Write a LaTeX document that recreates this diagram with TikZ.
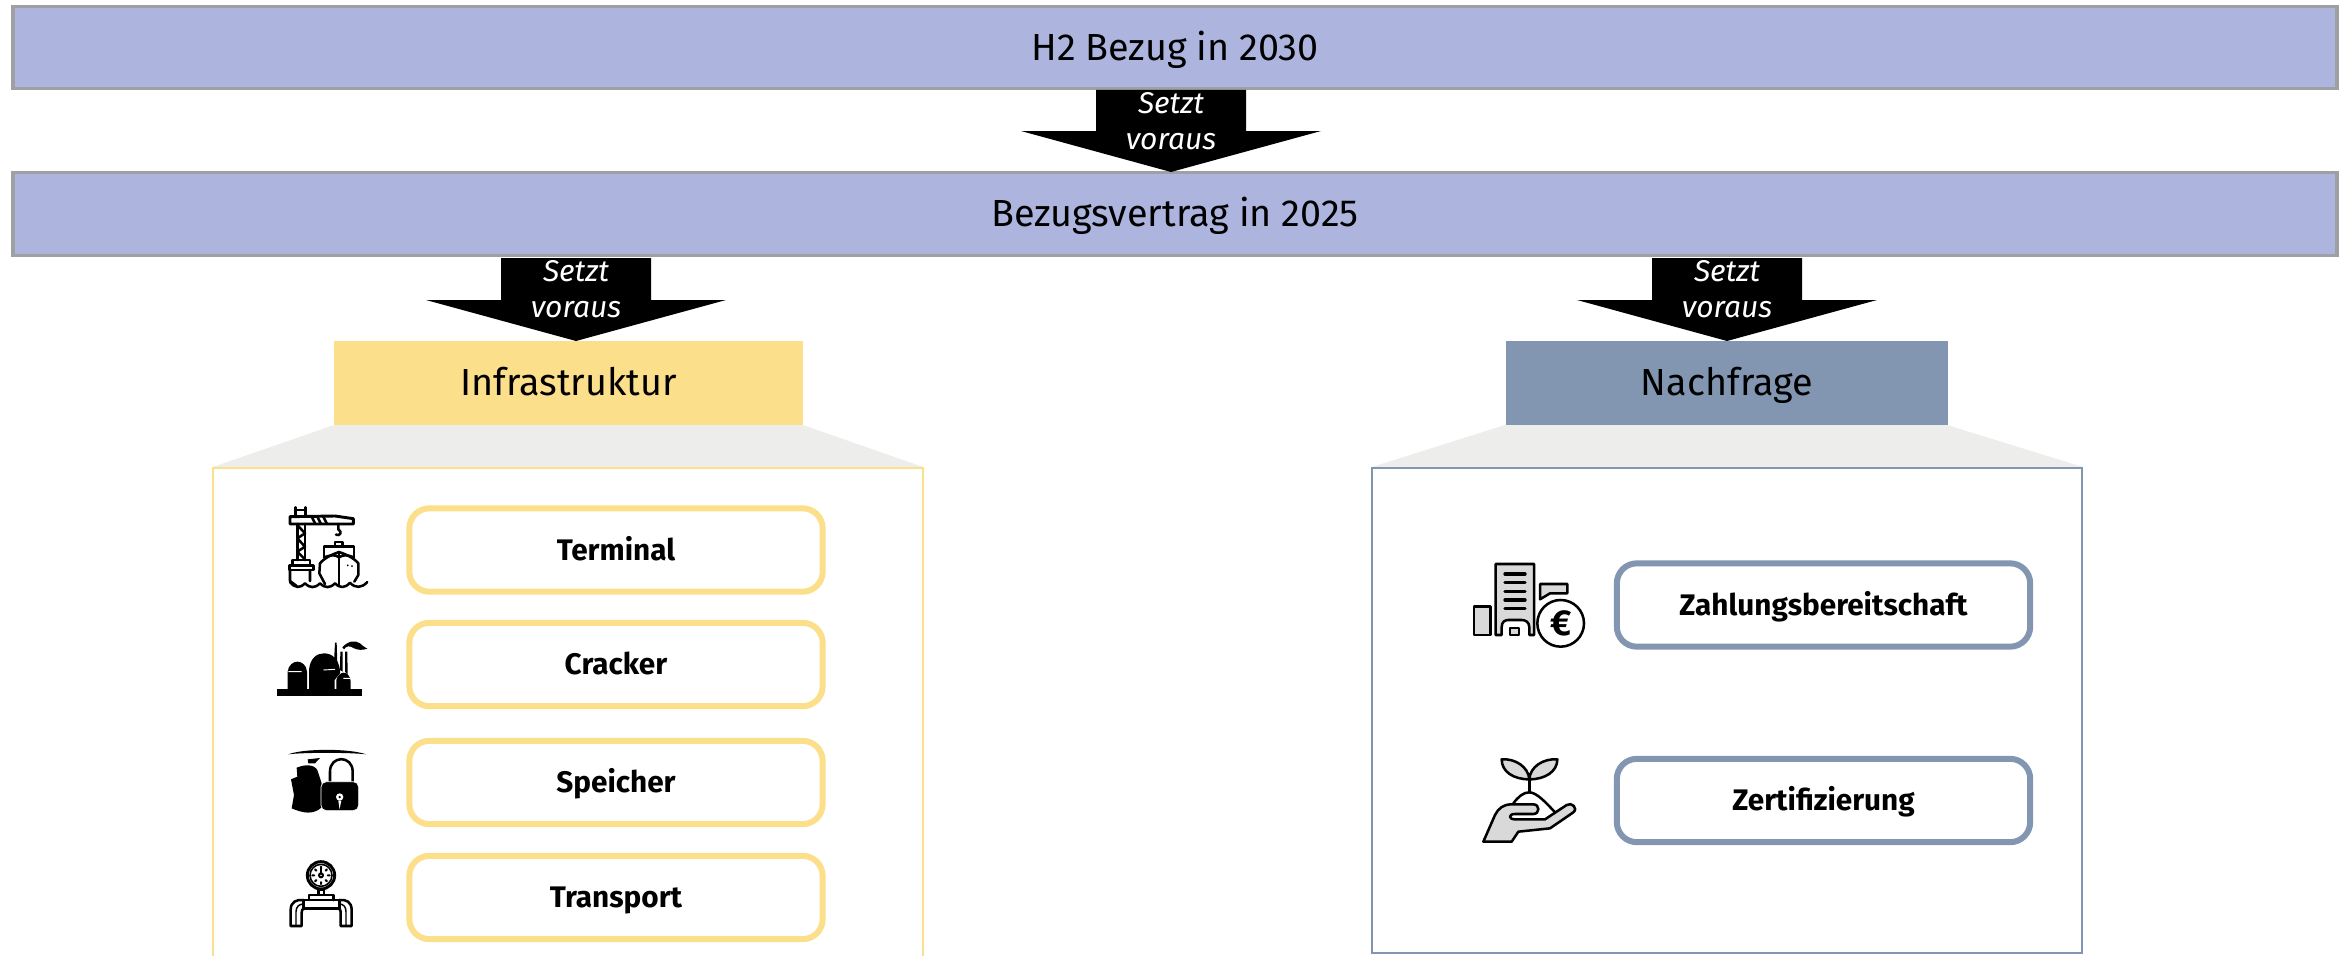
\documentclass[tikz,border=0pt]{standalone}
\usepackage{fontspec}
\setmainfont{Fira Sans}
\definecolor{barfill}{HTML}{ADB5DF}
\definecolor{barline}{HTML}{9FA0A4}
\definecolor{gelb}{HTML}{FCDF8A}
\definecolor{stahl}{HTML}{8396B1}
\definecolor{trapez}{HTML}{EDEDEB}
\definecolor{icongrey}{HTML}{D9D9D9}
\tikzset{
  x=0.75pt,y=-0.75pt,
  bar/.style={draw=barline,line width=2.4pt,fill=barfill,inner sep=0,minimum width=1743pt,minimum height=62pt,text height=24pt,text depth=4.8pt,font=\fontsize{28.3}{34}\selectfont},
  head/.style={inner sep=0,minimum height=63pt,text height=24pt,text depth=4.8pt,font=\fontsize{28.3}{34}\selectfont},
  arrowtext/.style={text=white,align=center,inner sep=0,font=\fontsize{22.5}{27.5}\selectfont\itshape},
  item/.style={draw=#1,line width=4.5pt,rounded corners=15pt,fill=white,inner sep=0,minimum height=62.5pt,text height=20pt,text depth=5pt,font=\fontsize{22.3}{26}\selectfont\bfseries},
  panel/.style={line width=2.2pt},
  ic/.style={line width=1.9pt,draw=black,line join=round,line cap=round},
  icg/.style={ic,fill=icongrey},
  icon/.style={shift={(#1)},scale=1/3}
}
\begin{document}
\begin{tikzpicture}
\useasboundingbox (0,0) rectangle (2349,956);
% trapezes and panels
\fill[trapez] (334,425) -- (803,425) -- (923,467) -- (213,467) -- cycle;
\fill[trapez] (1505,425) -- (1947,425) -- (2083,467) -- (1372,467) -- cycle;
\draw[gelb,panel] (213,956) -- (213,468) -- (923,468) -- (923,956);
\draw[stahl,panel] (1372,468) rectangle (2082,953);
% bars
\node[bar] (b1) at (1175,47.5) {H2 Bezug in 2030};
\node[bar] (b2) at (1175,214) {Bezugsvertrag in 2025};
% heads
\node[head,fill=gelb,minimum width=352pt] (infra) at (568.5,383) {Infrastruktur};
\node[head,fill=stahl,minimum width=331.5pt] (nach) at (1727,383) {Nachfrage};
% arrows
\fill[black] (1096,90) -- (1246,90) -- (1246,131) -- (1321,131) -- (1171,172) -- (1021,131) -- (1096,131) -- cycle;
\fill[black] (501,258) -- (651,258) -- (651,300) -- (726,300) -- (576,341) -- (426,300) -- (501,300) -- cycle;
\fill[black] (1652,258) -- (1802,258) -- (1802,300) -- (1877,300) -- (1727,341) -- (1577,300) -- (1652,300) -- cycle;
\node[arrowtext] (t1) at (1171,121) {Setzt\\voraus};
\node[arrowtext] (t2) at (576,289) {Setzt\\voraus};
\node[arrowtext] (t3) at (1727,289) {Setzt\\voraus};
% items
\node[item=gelb,minimum width=310pt] (i1) at (616,550) {Terminal};
\node[item=gelb,minimum width=310pt] (i2) at (616,664.5) {Cracker};
\node[item=gelb,minimum width=310pt] (i3) at (616,782.5) {Speicher};
\node[item=gelb,minimum width=310pt] (i4) at (616,897.5) {Transport};
\node[item=stahl,minimum width=310pt] (n1) at (1823.5,605) {Zahlungsbereitschaft};
\node[item=stahl,minimum width=310pt] (n2) at (1823.5,800.5) {Zertifizierung};
% crane and ship
\begin{scope}[icon={260,480}]
\draw[ic] (107,104) -- (107,82) (137,104) -- (137,82) (107,90) -- (137,90);
\draw[ic,line width=2.2pt] (90,110) -- (225,108) -- (280,116) -- (280,132) -- (90,132) -- cycle;
\draw[ic] (155,110) -- (165,130) (172,110) -- (182,130) (190,110) -- (200,130);
\draw[ic,line width=2.2pt] (112,132) -- (112,240) (135,132) -- (135,240);
\draw[ic] (112,135) -- (135,160) -- (112,175) -- (135,200) -- (112,215) -- (135,238);
\draw[ic] (97,256) -- (97,240) -- (150,240) -- (150,256);
\draw[ic] (88,256) -- (160,256) -- (160,270) -- (88,270) -- cycle;
\draw[ic] (90,270) -- (90,303) -- (110,318) (150,270) -- (150,303);
\draw[ic] (235,132) -- (235,148) .. controls (248,155) and (240,170) .. (228,164);
\draw[ic] (225,200) -- (225,186) -- (248,186) -- (248,200);
\draw[ic] (192,232) -- (192,200) -- (282,200) -- (282,232);
\draw[ic] (180,250) .. controls (195,232) and (220,222) .. (237,216) .. controls (255,222) and (280,232) .. (295,250) -- (295,285) -- (283,305);
\draw[ic] (180,250) -- (178,280) -- (195,312);
\draw[ic] (237,216) -- (237,316);
\draw[ic] (192,232) .. controls (210,226) and (225,222) .. (237,232) .. controls (250,222) and (265,226) .. (282,232);
\fill (263,256) circle (3) (276,258) circle (3);
\draw[ic] (90,306) .. controls (105,325) and (120,325) .. (135,310) .. controls (150,325) and (165,325) .. (180,310) .. controls (195,325) and (210,325) .. (225,310) .. controls (240,325) and (255,325) .. (270,308) .. controls (285,325) and (305,325) .. (322,306);
% refinery
\fill (50,627) rectangle (305,648);
\fill (83,627) -- (83,575) .. controls (85,555) and (100,545) .. (112,545) .. controls (125,545) and (140,555) .. (141,575) -- (141,627) -- cycle;
\fill (147,627) -- (147,570) .. controls (150,535) and (170,520) .. (192,520) .. controls (215,520) and (235,535) .. (240,570) -- (240,580) -- (224,600) -- (224,627) -- cycle;
\fill (229,627) -- (229,600) .. controls (232,585) and (245,578) .. (250,578) .. controls (260,578) and (272,588) .. (272,605) -- (272,627) -- cycle;
\fill (222,548) -- (225,488) -- (230,488) -- (232,552) -- cycle;
\fill (240,570) -- (241,515) -- (248,515) -- (248,575) -- cycle;
\fill (255,575) -- (255,515) -- (262,515) -- (263,585) -- cycle;
\fill (247,502) .. controls (265,482) and (285,480) .. (300,490) .. controls (305,496) and (312,500) .. (322,506) .. controls (310,510) and (295,512) .. (280,504) .. controls (270,496) and (258,498) .. (252,508) -- cycle;
\draw[white,line width=.7pt] (85,575) -- (125,575) (190,570) -- (225,568) (250,595) -- (270,595);
\end{scope}
% storage
\begin{scope}[icon={260,720}]
\fill (85,103) .. controls (130,85) and (270,85) .. (318,103) .. controls (270,97) and (130,97) .. cycle;
\fill (143,118) -- (180,114) -- (165,130) -- (145,130) -- cycle;
\fill (110,143) .. controls (130,135) and (160,130) .. (172,150) -- (185,190) -- (185,262) .. controls (160,285) and (130,280) .. (95,265) -- (102,225) -- (93,178) -- (112,170) -- cycle;
\draw[ic,line width=1.9pt] (210,186) -- (210,155) .. controls (210,105) and (278,105) .. (278,155) -- (278,186);
\fill[black,draw=white,line width=.5pt,rounded corners=4pt] (183,185) rectangle (296,272);
\fill[white] (239,231) circle (11);
\fill[black] (239,231) circle (4);
\draw[white,line width=1pt] (237,242) -- (239,256) -- (242,242);
% gauge
\draw[ic,line width=2.2pt] (183,466) circle (41);
\draw[ic,line width=1.2pt] (183,466) circle (33);
\draw[ic,line width=1.5pt] (183,440) -- (183,446) (183,486) -- (183,492) (157,466) -- (163,466) (203,466) -- (209,466) (165,448) -- (169,452) (201,448) -- (197,452) (165,484) -- (169,480) (201,484) -- (197,480);
\draw[ic,line width=1.5pt] (183,448) -- (183,462);
\draw[ic,line width=1.5pt] (183,466) circle (6);
\draw[ic] (175,508) rectangle (192,525);
\draw[ic] (147,540) -- (147,525) -- (220,525) -- (220,540);
\draw[ic] (130,540) rectangle (238,565);
\draw[ic] (92,618) -- (92,570) .. controls (92,545) and (110,538) .. (130,540) (125,618) -- (125,580) .. controls (125,570) and (128,565) .. (135,565) (92,618) -- (125,618);
\draw[ic] (275,618) -- (275,570) .. controls (275,545) and (258,538) .. (238,540) (242,618) -- (242,580) .. controls (242,570) and (240,565) .. (233,565) (242,618) -- (275,618);
\draw[ic,line width=1.1pt] (108,618) -- (108,575) .. controls (108,560) and (118,552) .. (130,552) (258,618) -- (258,575) .. controls (258,560) and (250,552) .. (238,552);
\end{scope}
% building
\begin{scope}[icon={1450,540}]
\draw[icg] (72,200) rectangle (122,285);
\draw[icg] (270,132) -- (352,132) -- (352,160) -- (300,160) -- (270,178) -- cycle;
\draw[icg] (137,285) -- (137,72) -- (252,72) -- (252,285) -- (238,285) -- (238,262) .. controls (238,245) and (225,240) .. (215,240) -- (175,240) .. controls (165,240) and (155,245) .. (155,262) -- (155,285) -- cycle;
\draw[ic,line width=2.5pt] (165,102) -- (225,102) (165,128) -- (225,128) (165,154) -- (225,154) (165,180) -- (225,180) (165,205) -- (225,205);
\draw[icg,line width=1.5pt] (180,264) rectangle (208,285);
\draw[ic,fill=white] (332,250) circle (70);
\node[inner sep=0,font=\fontsize{27}{27}\selectfont\bfseries] (euro) at (332,250) {€};
\end{scope}
% hand
\begin{scope}[icon={1450,740}]
\draw[icg] (238,118) .. controls (190,118) and (155,95) .. (155,58) .. controls (195,55) and (235,80) .. (238,118) .. controls (240,80) and (280,55) .. (322,58) .. controls (322,95) and (285,118) .. (238,118) -- cycle;
\draw[ic] (238,118) -- (238,157);
\draw[ic] (190,190) .. controls (205,170) and (220,157) .. (238,157) .. controls (260,157) and (290,190) .. (315,217);
\draw[icg] (100,305) -- (135,225) .. controls (145,205) and (160,193) .. (185,193) -- (250,193) .. controls (270,193) and (270,222) .. (250,222) -- (195,222) .. controls (175,222) and (175,238) .. (195,238) -- (285,238) -- (350,195) .. controls (365,185) and (385,205) .. (370,217) -- (300,265) -- (205,275) -- (185,305) -- cycle;
\end{scope}
\end{tikzpicture}
\end{document}
